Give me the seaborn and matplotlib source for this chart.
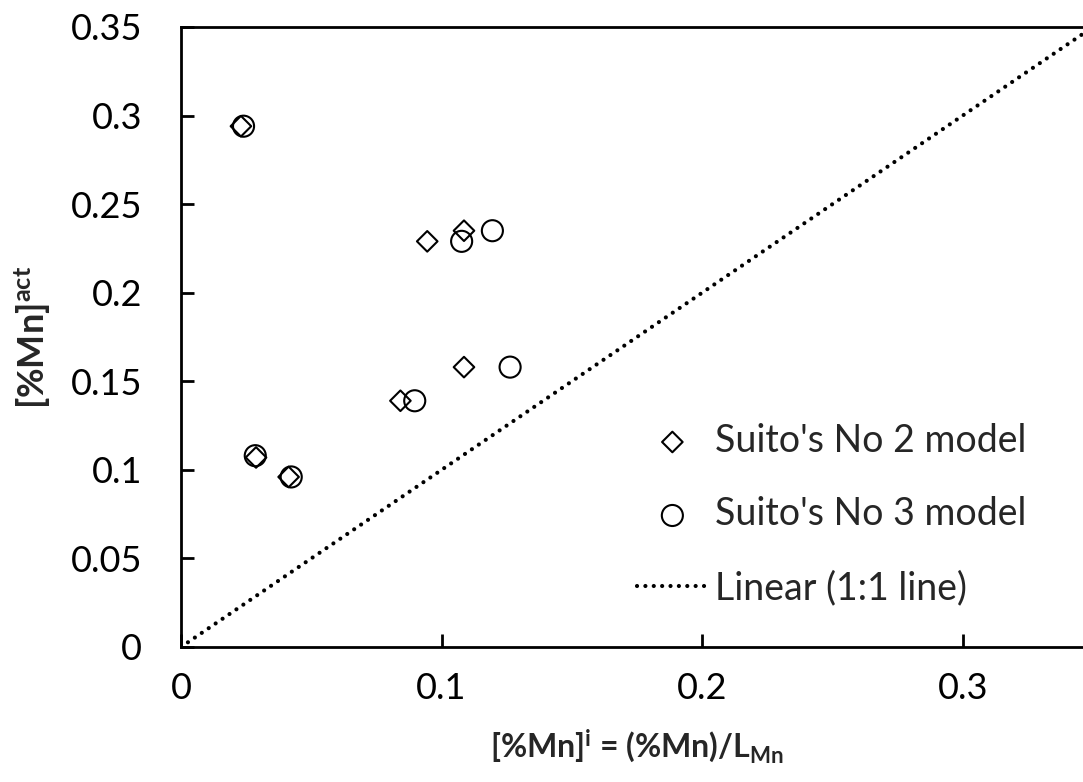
import pandas as pd
import seaborn as sns
import matplotlib.pyplot as plt

# Valores
no2_x = [0.023, 0.0945, 0.1086, 0.1086, 0.0842, 0.0288, 0.0413]
no2_y = [0.294, 0.229, 0.235, 0.158, 0.139, 0.107, 0.096]
no3_x = [0.024, 0.1077, 0.1195, 0.1263, 0.0897, 0.0285, 0.0423]
no3_y = [0.294, 0.229, 0.235, 0.158, 0.139, 0.108, 0.096]
line_x = [0, 0.35]
line_y = [0, 0.35]

df2 = pd.DataFrame({'x': no2_x, 'y': no2_y})
df3 = pd.DataFrame({'x': no3_x, 'y': no3_y})
df_line = pd.DataFrame({'x': line_x, 'y': line_y})

sns.set_theme(style="ticks")
plt.rcParams['font.family'] = ['Lato', 'DejaVu Sans']
plt.rcParams['mathtext.fontset'] = 'custom'
plt.rcParams['mathtext.rm'] = 'Lato'
plt.rcParams['mathtext.bf'] = 'Lato:bold'
plt.rcParams['mathtext.default'] = 'bf'

fig = plt.figure(figsize=(10.83, 7.82), dpi=100)
ax = fig.add_axes([181 / 1083, 135 / 782, 912 / 1083, 620 / 782])

sns.scatterplot(data=df2, x='x', y='y', marker='D', s=110, facecolors='none',
                edgecolor='black', linewidth=1.5, label="Suito's No 2 model", ax=ax)
sns.scatterplot(data=df3, x='x', y='y', marker='o', s=230, facecolors='none',
                edgecolor='black', linewidth=1.5, label="Suito's No 3 model", ax=ax)
sns.lineplot(data=df_line, x='x', y='y', color='black', linewidth=3,
             linestyle=(0, (0.01, 2)), dash_capstyle='round',
             label='Linear (1:1 line)', ax=ax)

ax.set_xlim(0, 0.35)
ax.set_ylim(0, 0.35)
ax.set_xticks([0, 0.1, 0.2, 0.3])
ax.set_xticklabels(['0', '0.1', '0.2', '0.3'])
ax.set_yticks([0, 0.05, 0.1, 0.15, 0.2, 0.25, 0.3, 0.35])
ax.set_yticklabels(['0', '0.05', '0.1', '0.15', '0.2', '0.25', '0.3', '0.35'])

for side in ['left', 'bottom', 'top']:
    ax.spines[side].set_linewidth(2)
    ax.spines[side].set_color('black')
ax.spines['right'].set_visible(False)
ax.tick_params(axis='both', direction='in', length=9.5, width=2,
               labelsize=26, colors='black')
ax.tick_params(axis='y', pad=28)
ax.tick_params(axis='x', pad=18)

ax.set_xlabel(r'[%Mn]$^{i}$ = (%Mn)/L$_{Mn}$', fontsize=23, fontweight='bold')
ax.set_ylabel(r'[%Mn]$^{act}$', fontsize=26, fontweight='bold')
ax.xaxis.set_label_coords(0.5, -0.13)
ax.yaxis.set_label_coords(-0.14, 0.5)

leg = ax.legend(loc='upper left', bbox_to_anchor=(0.4627, 0.416), frameon=False,
                fontsize=27, handlelength=1.9, handletextpad=0.2,
                labelspacing=1.0, borderpad=0.4)

plt.savefig('out.png', dpi=100)
